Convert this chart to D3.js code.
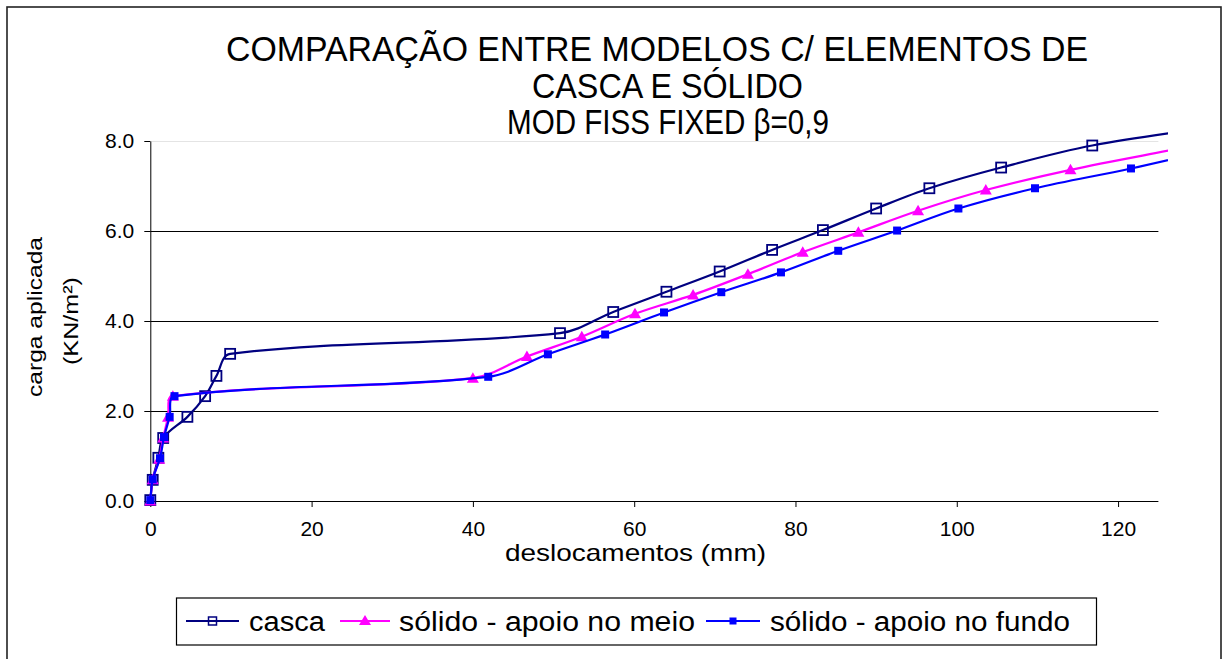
<!DOCTYPE html>
<html><head><meta charset="utf-8">
<script src="https://cdn.jsdelivr.net/npm/d3@7"></script>
<style>body{margin:0;background:#fff}svg{display:block}text{font-family:"Liberation Sans",Arial,sans-serif;fill:#000}</style>
</head><body><svg id="c" width="1228" height="659"></svg>
<script>
// ---- data ----
const titleLines = ["COMPARAÇÃO ENTRE MODELOS C/  ELEMENTOS DE", "CASCA E SÓLIDO", "MOD FISS FIXED β=0,9"];
const xTicks = [0, 20, 40, 60, 80, 100, 120];
const yTicks = [0, 2, 4, 6, 8];
const yTickLabels = ["0.0", "2.0", "4.0", "6.0", "8.0"];
const xTitle = "deslocamentos (mm)";
const yTitle1 = "carga aplicada";
const yTitle2 = "(KN/m²)";
const seriesNames = ["casca", "sólido - apoio no meio", "sólido - apoio no fundo"];

const cascaX = [0, 0.3, 1.0, 1.6, 4.6, 6.8, 8.2, 9.9, 50.8, 57.4, 64.0, 70.6, 77.1, 83.4, 90.0, 96.6, 105.5, 116.8, 134];
const cascaY = [0.02, 0.47, 0.96, 1.40, 1.87, 2.33, 2.78, 3.27, 3.73, 4.20, 4.65, 5.10, 5.58, 6.02, 6.50, 6.95, 7.41, 7.90, 8.37];
const meioX = [0, 0.3, 1.1, 1.6, 2.2, 2.8, 40.0, 46.7, 53.5, 60.1, 67.3, 74.1, 80.9, 87.8, 95.2, 103.6, 114.1, 127.5];
const meioY = [0, 0.47, 0.93, 1.40, 1.86, 2.33, 2.73, 3.21, 3.65, 4.16, 4.58, 5.04, 5.53, 5.97, 6.45, 6.91, 7.36, 7.83];
const fundoX = [0, 0.3, 1.2, 1.7, 2.4, 3.0, 41.9, 49.3, 56.4, 63.7, 70.8, 78.2, 85.3, 92.6, 100.2, 109.7, 121.6, 133];
const fundoY = [0.02, 0.48, 0.95, 1.42, 1.87, 2.33, 2.76, 3.26, 3.70, 4.19, 4.64, 5.08, 5.56, 6.01, 6.50, 6.95, 7.39, 7.86];

// ---- drawing ----
const svg = d3.select("#c");
const x = d3.scaleLinear().domain([0, 125]).range([150.3, 1158.4]);
const y = d3.scaleLinear().domain([0, 8]).range([501, 141]);

svg.append("rect").attr("x", 7).attr("y", 7).attr("width", 1214).attr("height", 680)
  .attr("fill", "none").attr("stroke", "#222").attr("stroke-width", 1.6);

const tX = [226, 532, 507], tY = [61, 98, 134], tL = [862, 271, 322];
titleLines.forEach((t, i) => {
  svg.append("text").attr("x", tX[i]).attr("y", tY[i]).attr("font-size", 35)
    .attr("textLength", tL[i]).attr("lengthAdjust", "spacingAndGlyphs").text(t);
});

svg.append("g").selectAll("line").data(yTicks.filter(v => v > 0)).join("line")
  .attr("x1", x(0)).attr("x2", x(125)).attr("y1", d => y(d) + 0.5).attr("y2", d => y(d) + 0.5)
  .attr("stroke", d => d === 8 ? "#e4e4e4" : "#000").attr("stroke-width", 1);

const yAxis = svg.append("g").attr("transform", `translate(${x(0)},0)`)
  .call(d3.axisLeft(y).tickValues(yTicks).tickFormat((d, i) => yTickLabels[i]).tickSize(6).tickSizeOuter(0).tickPadding(10));
const xAxis = svg.append("g").attr("transform", `translate(0,${y(0)})`)
  .call(d3.axisBottom(x).tickValues(xTicks).tickFormat(d3.format("d")).tickSize(6).tickSizeOuter(0).tickPadding(14));
[yAxis, xAxis].forEach(g => {
  g.select(".domain").attr("stroke", "#000").attr("stroke-width", 1);
  g.selectAll(".tick line").attr("stroke", "#000");
  g.selectAll("text").attr("font-size", 21).attr("fill", "#000").style("font-family", '"Liberation Sans",Arial,sans-serif');
});
xAxis.select(".domain").attr("d", `M${x(0)},0.5H${x(125)}`);

svg.append("text").attr("x", 635.5).attr("y", 561).attr("text-anchor", "middle").attr("font-size", 24)
  .attr("textLength", 261).attr("lengthAdjust", "spacingAndGlyphs").text(xTitle);
svg.append("text").attr("transform", "translate(42,317) rotate(-90)").attr("text-anchor", "middle")
  .attr("font-size", 21).attr("textLength", 160).attr("lengthAdjust", "spacingAndGlyphs").text(yTitle1);
svg.append("text").attr("transform", "translate(78,321) rotate(-90)").attr("text-anchor", "middle")
  .attr("font-size", 21).attr("textLength", 88).attr("lengthAdjust", "spacingAndGlyphs").text(yTitle2);

svg.append("defs").append("clipPath").attr("id", "clip").append("rect")
  .attr("x", 130).attr("y", 100).attr("width", 1168 - 130).attr("height", 430);

// Excel-like smoothing: tangent direction from neighbours, control distance = 1/3 of the segment
function smoothPath(pts) {
  const n = pts.length, p = d3.path();
  const tan = pts.map((q, i) => {
    const a = pts[Math.max(0, i - 1)], b = pts[Math.min(n - 1, i + 1)];
    const dx = b[0] - a[0], dy = b[1] - a[1], L = Math.hypot(dx, dy) || 1;
    return [dx / L, dy / L];
  });
  p.moveTo(pts[0][0], pts[0][1]);
  for (let i = 0; i < n - 1; i++) {
    const a = pts[i], b = pts[i + 1];
    const d = Math.hypot(b[0] - a[0], b[1] - a[1]) / 3;
    p.bezierCurveTo(a[0] + tan[i][0] * d, a[1] + tan[i][1] * d,
                    b[0] - tan[i + 1][0] * d, b[1] - tan[i + 1][1] * d, b[0], b[1]);
  }
  return p.toString();
}

const series = [
  {name: seriesNames[0], pts: d3.zip(cascaX, cascaY), color: "#000080", marker: "hollow"},
  {name: seriesNames[1], pts: d3.zip(meioX, meioY), color: "#FF00FF", marker: "tri"},
  {name: seriesNames[2], pts: d3.zip(fundoX, fundoY), color: "#0000FF", marker: "sq"}
];
const plot = svg.append("g").attr("clip-path", "url(#clip)");

function drawMarker(g, type, color, cx, cy) {
  if (type === "hollow") {
    g.append("rect").attr("x", cx - 5).attr("y", cy - 5).attr("width", 10).attr("height", 10)
      .attr("fill", "none").attr("stroke", color).attr("stroke-width", 1.8);
  } else if (type === "tri") {
    g.append("path").attr("d", `M${cx},${cy - 6}L${cx + 6},${cy + 4.5}L${cx - 6},${cy + 4.5}Z`).attr("fill", color);
  } else {
    g.append("rect").attr("x", cx - 4).attr("y", cy - 4).attr("width", 8).attr("height", 8).attr("fill", color);
  }
}

series.forEach(s => {
  const g = plot.append("g");
  const px = s.pts.map(p => [x(p[0]), y(p[1])]);
  g.append("path").attr("d", smoothPath(px)).attr("fill", "none").attr("stroke", s.color).attr("stroke-width", 2.2);
  px.forEach(p => drawMarker(g, s.marker, s.color, p[0], p[1]));
});

svg.append("rect").attr("x", 176.5).attr("y", 598).attr("width", 920).attr("height", 47)
  .attr("fill", "#fff").attr("stroke", "#000").attr("stroke-width", 1.2);
const legLine = [[186, 239], [340, 390], [706, 760]];
const legText = [249, 399, 770];
const legLen = [76, 296, 300];
series.forEach((s, i) => {
  const g = svg.append("g");
  g.append("line").attr("x1", legLine[i][0]).attr("x2", legLine[i][1]).attr("y1", 621).attr("y2", 621)
    .attr("stroke", s.color).attr("stroke-width", 2.2);
  const cx = (legLine[i][0] + legLine[i][1]) / 2;
  if (s.marker === "hollow") {
    g.append("rect").attr("x", cx - 4).attr("y", 617).attr("width", 8).attr("height", 8)
      .attr("fill", "none").attr("stroke", s.color).attr("stroke-width", 1.5);
  } else if (s.marker === "tri") {
    g.append("path").attr("d", `M${cx},${615}L${cx + 6},${625}L${cx - 6},${625}Z`).attr("fill", s.color);
  } else {
    g.append("rect").attr("x", cx - 3.5).attr("y", 617.5).attr("width", 7).attr("height", 7).attr("fill", s.color);
  }
  g.append("text").attr("x", legText[i]).attr("y", 631).attr("font-size", 27)
    .attr("textLength", legLen[i]).attr("lengthAdjust", "spacingAndGlyphs").text(s.name);
});
</script></body></html>
